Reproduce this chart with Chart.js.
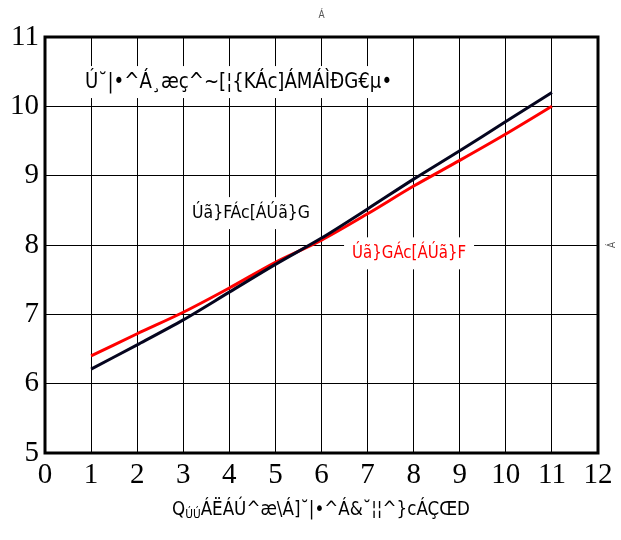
<!DOCTYPE html>
<html>
<head>
<meta charset="utf-8">
<script src="https://cdn.jsdelivr.net/npm/chart.js@4.4.1/dist/chart.umd.min.js"></script>
<style>
  body { margin: 0; background: #fff; }
  #wrap { width: 621px; height: 540px; }
</style>
</head>
<body>
<div id="wrap"><canvas id="grafik" width="621" height="540"></canvas></div>
<script>
// data dari gambar
const xNilai = [1, 2, 3, 4, 5, 6, 7, 8, 9, 10, 11];
const garisHitam = [6.21, 6.56, 6.92, 7.32, 7.72, 8.10, 8.52, 8.95, 9.36, 9.78, 10.2];
const garisMerah = [6.40, 6.72, 7.03, 7.38, 7.75, 8.07, 8.45, 8.85, 9.22, 9.60, 10.0];
const xTicks = [0, 1, 2, 3, 4, 5, 6, 7, 8, 9, 10, 11, 12];
const yTicks = [5, 6, 7, 8, 9, 10, 11];

const judulDalam = 'Ú˘|•^Á¸æç^~[¦{KÁc]ÁMÁÌÐG€µ•';
const labelHitam = 'Úã}FÁc[ÁÚã}G';
const labelMerah = 'Úã}GÁc[ÁÚã}F';
const judulX = ['Q', 'ÚÚ', 'ÁËÁÚ^æ\\Á]˘|•^Á&˘¦¦^}cÁÇŒD'];

const fontSans = '"DejaVu Sans Condensed", "DejaVu Sans", sans-serif';
const fontAngka = '"Liberation Serif", "DejaVu Serif", serif';

// teks dipadatkan sedikit supaya mirip huruf sempit di gambar
function kotakTeks(ctx, teks, x, y, warna, ukuran, lebarTarget, rata) {
  ctx.font = ukuran + 'px ' + fontSans;
  const w = ctx.measureText(teks).width;
  const k = lebarTarget / w;
  const kiri = rata === 'left' ? x : x - lebarTarget / 2;
  ctx.fillStyle = '#fff';
  ctx.fillRect(kiri - 8, y - 16, lebarTarget + 16, 32);
  ctx.save();
  ctx.translate(kiri, y);
  ctx.scale(k, 1);
  ctx.fillStyle = warna;
  ctx.textBaseline = 'middle';
  ctx.textAlign = 'left';
  ctx.fillText(teks, 0, 0);
  ctx.restore();
}

const catatan = {
  id: 'catatan',
  beforeDatasetsDraw(chart) {
    const { ctx, scales } = chart;
    const sx = scales.x, sy = scales.y;
    ctx.save();
    kotakTeks(ctx, judulDalam, sx.getPixelForValue(0.87), sy.getPixelForValue(10.35), '#000', 21, 307, 'left');
    kotakTeks(ctx, labelHitam, sx.getPixelForValue(4.47), sy.getPixelForValue(8.46), '#000', 18, 118, 'center');
    kotakTeks(ctx, labelMerah, sx.getPixelForValue(7.9), sy.getPixelForValue(7.88), '#ff0000', 18, 114, 'center');
    ctx.restore();
  },
  afterDraw(chart) {
    const { ctx, chartArea: a } = chart;
    ctx.save();
    // bingkai tebal
    ctx.strokeStyle = '#000';
    ctx.lineWidth = 3;
    ctx.strokeRect(a.left, a.top, a.right - a.left, a.bottom - a.top);

    // judul sumbu x dengan subskrip
    ctx.fillStyle = '#000';
    ctx.textBaseline = 'alphabetic';
    ctx.textAlign = 'left';
    ctx.font = '19px ' + fontSans;
    const w0 = ctx.measureText(judulX[0]).width;
    const w2 = ctx.measureText(judulX[2]).width;
    ctx.font = '12px ' + fontSans;
    const w1 = ctx.measureText(judulX[1]).width;
    const k = 298 / (w0 + w1 + w2);
    ctx.translate(172, 515);
    ctx.scale(k, 1);
    let x = 0;
    ctx.font = '19px ' + fontSans;
    ctx.fillText(judulX[0], x, 0);
    x += w0;
    ctx.font = '12px ' + fontSans;
    ctx.fillText(judulX[1], x, 3);
    x += w1;
    ctx.font = '19px ' + fontSans;
    ctx.fillText(judulX[2], x, 0);
    ctx.restore();

    // teks kecil atas dan kanan
    ctx.save();
    ctx.fillStyle = '#555';
    ctx.font = '10px ' + fontSans;
    ctx.textAlign = 'center';
    ctx.textBaseline = 'middle';
    ctx.fillText('Á', (a.left + a.right) / 2, 15);
    ctx.translate(612, (a.top + a.bottom) / 2);
    ctx.rotate(-Math.PI / 2);
    ctx.fillText('Á', 0, 0);
    ctx.restore();
  }
};

const ctx = document.getElementById('grafik').getContext('2d');
const grafik = new Chart(ctx, {
  type: 'line',
  data: {
    datasets: [{
      label: 'hitam',
      data: xNilai.map((v, i) => ({ x: v, y: garisHitam[i] })),
      borderColor: '#05051f',
      borderWidth: 3,
      pointRadius: 0,
      tension: 0.3
    }, {
      label: 'merah',
      data: xNilai.map((v, i) => ({ x: v, y: garisMerah[i] })),
      borderColor: '#ff0000',
      borderWidth: 3,
      pointRadius: 0,
      tension: 0.3
    }]
  },
  options: {
    responsive: false,
    animation: false,
    layout: { padding: { top: 37, right: 23, left: 0, bottom: 0 } },
    plugins: {
      legend: { display: false },
      tooltip: { enabled: false },
      title: { display: false }
    },
    scales: {
      x: {
        type: 'linear',
        min: 0,
        max: 12,
        afterBuildTicks: (s) => { s.ticks = xTicks.map(v => ({ value: v })); },
        afterFit: (s) => { s.height = 87; },
        grid: { color: '#000', lineWidth: 1, drawTicks: false },
        border: { display: false },
        ticks: { color: '#000', padding: 5, font: { family: fontAngka, size: 29 }, maxRotation: 0 }
      },
      y: {
        min: 5,
        max: 11,
        afterBuildTicks: (s) => { s.ticks = yTicks.map(v => ({ value: v })); },
        afterFit: (s) => { s.width = 45; },
        grid: { color: '#000', lineWidth: 1, drawTicks: false },
        border: { display: false },
        ticks: { color: '#000', padding: 6, font: { family: fontAngka, size: 29 } }
      }
    }
  },
  plugins: [catatan]
});
</script>
</body>
</html>
